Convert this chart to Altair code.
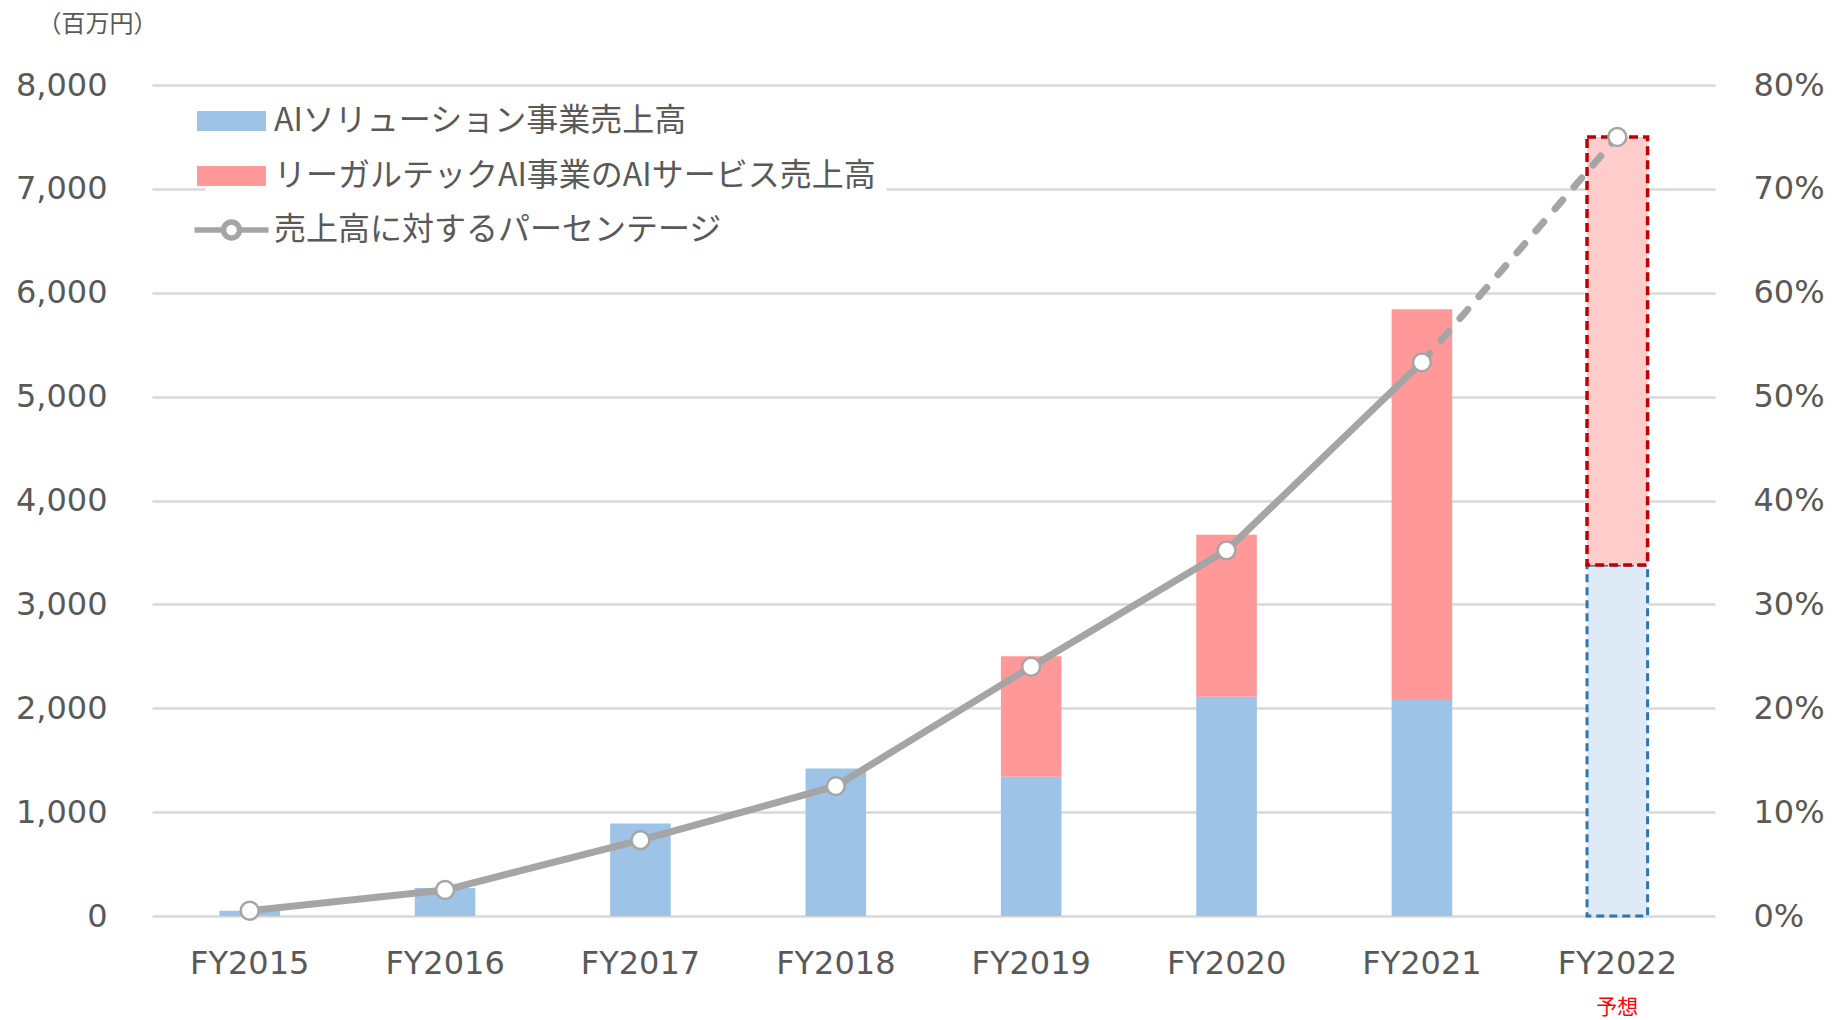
import altair as alt
import pandas as pd

# ---- data ----
years = ["FY2015", "FY2016", "FY2017", "FY2018", "FY2019", "FY2020", "FY2021", "FY2022"]
ai_solution = [50, 270, 890, 1420, 1340, 2110, 2080, 3380]        # 百万円
legaltech_ai = [0, 0, 0, 0, 1160, 1560, 3760, 4120]               # 百万円
pct = [0.005, 0.025, 0.073, 0.125, 0.24, 0.352, 0.533, 0.75]      # share
is_forecast = [False, False, False, False, False, False, False, True]

s_blue = "AIソリューション事業売上高"
s_pink = "リーガルテックAI事業のAIサービス売上高"
s_line = "売上高に対するパーセンテージ"
y_unit = "（百万円）"
forecast_note = "予想"

rows = []
for y, a, l, f in zip(years, ai_solution, legaltech_ai, is_forecast):
    rows.append({"year": y, "series": s_blue, "base": 0, "top": a, "forecast": f})
    if l > 0:
        rows.append({"year": y, "series": s_pink, "base": a, "top": a + l, "forecast": f})
bars_df = pd.DataFrame(rows)
line_df = pd.DataFrame({"year": years, "pct": pct, "name": s_line})
note_df = pd.DataFrame({"year": [y for y, f in zip(years, is_forecast) if f],
                        "note": forecast_note})

W, H = 1563, 831
GREY_TXT = "#595959"
NUM_FONT = "DejaVu Sans"
JP_FONT = "Noto Sans CJK JP"
FS = 32

xenc = alt.X("year:N", sort=years, title=None,
             scale=alt.Scale(paddingInner=0.69, paddingOuter=0.345),
             axis=alt.Axis(labelFont=NUM_FONT, labelFontSize=FS, labelColor=GREY_TXT,
                           labelPadding=32, ticks=False, domain=False, labelAngle=0))

left_axis = alt.Axis(orient="left", values=list(range(0, 8001, 1000)), format=",d",
                     labelFont=NUM_FONT, labelFontSize=FS, labelColor=GREY_TXT,
                     labelPadding=45, ticks=False, domain=False,
                     grid=True, gridColor="#D9D9D9", gridWidth=2.5,
                     title=y_unit, titleAngle=0, titleX=-55, titleY=-61,
                     titleAlign="center", titleBaseline="middle",
                     titleFont=JP_FONT, titleFontSize=24, titleFontWeight="normal",
                     titleColor=GREY_TXT)
yscale = alt.Scale(domain=[0, 8000], nice=False)

right_axis = alt.Axis(orient="right", values=[i / 10 for i in range(0, 9)], format=".0%",
                      labelFont=NUM_FONT, labelFontSize=FS, labelColor=GREY_TXT,
                      labelPadding=38, ticks=False, domain=False, grid=False, title=None)
pscale = alt.Scale(domain=[0, 0.8], nice=False)

rect_path = "M-3.45,-1H3.45V1H-3.45Z"
line_path = ("M-3.7,0H-0.8M0.8,0H3.7M0.8,0A0.8,0.8 0 1,1 -0.8,0"
             "A0.8,0.8 0 1,1 0.8,0Z")

bar_legend = alt.Legend(orient="none", legendX=53.5, legendY=10, title=None,
                        symbolType=rect_path, symbolSize=400, symbolStrokeWidth=0,
                        symbolOpacity=1, labelFont=JP_FONT, labelFontSize=FS,
                        labelColor=GREY_TXT, labelOffset=26.5, labelLimit=1000,
                        rowPadding=23, padding=10, fillColor="white", zindex=1)
line_legend = alt.Legend(orient="none", legendX=63.5, legendY=129, title=None,
                         symbolType=line_path, symbolSize=400, symbolStrokeWidth=5.5,
                         symbolFillColor="white", symbolStrokeColor="#A5A5A5",
                         symbolOpacity=1,
                         labelFont=JP_FONT, labelFontSize=FS, labelColor=GREY_TXT,
                         labelOffset=26.5, labelLimit=1000, padding=0)

actual = alt.Chart(bars_df).transform_filter("!datum.forecast").mark_bar().encode(
    x=xenc,
    y=alt.Y("base:Q", scale=yscale, axis=left_axis),
    y2="top:Q",
    fill=alt.Fill("series:N", scale=alt.Scale(domain=[s_blue, s_pink],
                                              range=["#9DC3E6", "#FF9999"]),
                  legend=bar_legend),
)
fc_blue = alt.Chart(bars_df).transform_filter(
    f"datum.forecast && datum.series == '{s_blue}'").mark_bar(
    fill="#DEEBF7", stroke="#2E75B6", strokeWidth=3, strokeDash=[8, 5]).encode(
    x=xenc, y=alt.Y("base:Q", scale=yscale, axis=left_axis), y2="top:Q")
fc_pink = alt.Chart(bars_df).transform_filter(
    f"datum.forecast && datum.series == '{s_pink}'").mark_bar(
    fill="#FFCCCC", stroke="#C00000", strokeWidth=3.5, strokeDash=[9, 5]).encode(
    x=xenc, y=alt.Y("base:Q", scale=yscale, axis=left_axis), y2="top:Q")
note = alt.Chart(note_df).mark_text(font=JP_FONT, fontSize=21, color="#FF0000",
                                    baseline="middle").encode(
    x=xenc, y=alt.value(923), text="note:N")

bars = alt.layer(actual, fc_blue, fc_pink, note)

stroke_enc = alt.Stroke("name:N", scale=alt.Scale(domain=[s_line], range=["#A5A5A5"]),
                        legend=line_legend)
line_solid = alt.Chart(line_df.iloc[:7]).mark_line(
    strokeWidth=7, strokeCap="round", strokeJoin="round").encode(
    x=xenc, y=alt.Y("pct:Q", scale=pscale, axis=right_axis), stroke=stroke_enc)
line_dash = alt.Chart(line_df.iloc[6:]).mark_line(
    strokeWidth=7, strokeCap="round", strokeDash=[12, 17]).encode(
    x=xenc, y=alt.Y("pct:Q", scale=pscale, axis=right_axis), stroke=stroke_enc)
points = alt.Chart(line_df).mark_point(
    filled=True, fill="white", stroke="#A5A5A5", strokeWidth=2.5, size=320,
    opacity=1).encode(
    x=xenc, y=alt.Y("pct:Q", scale=pscale, axis=right_axis))

lines = alt.layer(line_solid, line_dash, points)

chart = alt.layer(bars, lines).resolve_scale(y="independent").properties(
    width=W, height=H,
    autosize=alt.AutoSizeParams(type="none"),
    padding={"left": 144, "top": 77, "right": 109, "bottom": 104},
    background="white",
).configure_view(stroke=None)

chart.save("out.html", embed_options={"renderer": "svg", "actions": False})
